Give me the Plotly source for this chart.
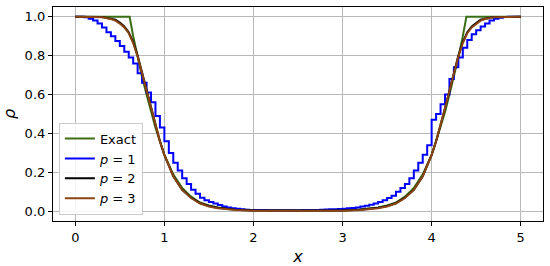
import numpy as np
import plotly.graph_objects as go

# exact solution (symmetric about x = 2.5)
x_exact = [0.0, 0.61, 0.65, 0.7, 0.75, 0.8, 0.85, 0.9, 0.95, 1.0, 1.05, 1.1, 1.2, 1.3, 1.4,
           1.5, 1.6, 1.8, 2.0, 2.5, 3.0, 3.2, 3.4, 3.5, 3.6, 3.7, 3.8, 3.9, 3.95, 4.0, 4.05,
           4.1, 4.15, 4.2, 4.25, 4.3, 4.35, 4.39, 5.0]
rho_exact = [1.0, 1.0, 0.9, 0.79, 0.69, 0.6, 0.51, 0.43, 0.36, 0.29, 0.24, 0.19, 0.12, 0.075, 0.045,
             0.03, 0.02, 0.01, 0.005, 0.003, 0.005, 0.01, 0.02, 0.03, 0.045, 0.075, 0.12, 0.19, 0.24,
             0.29, 0.36, 0.43, 0.51, 0.6, 0.69, 0.79, 0.9, 1.0, 1.0]

# p = 1 (piecewise constant, cells of 0.05)
x_p1 = np.round(np.arange(0, 5.001, 0.05), 2)
rho_p1 = [1.0, 1.0, 1.0, 0.997, 0.99, 0.98, 0.965, 0.945, 0.92, 0.9,
          0.875, 0.85, 0.82, 0.79, 0.76, 0.71, 0.66, 0.61, 0.56, 0.49,
          0.43, 0.36, 0.3, 0.25, 0.21, 0.17, 0.14, 0.11, 0.09, 0.07,
          0.057, 0.048, 0.04, 0.032, 0.025, 0.02, 0.016, 0.013, 0.01, 0.008,
          0.007, 0.006, 0.006, 0.006, 0.005, 0.005, 0.005, 0.005, 0.005, 0.005,
          0.005, 0.005, 0.006, 0.006, 0.007, 0.007, 0.008, 0.009, 0.01, 0.011,
          0.012, 0.013, 0.015, 0.017, 0.02, 0.024, 0.028, 0.033, 0.04, 0.048,
          0.057, 0.068, 0.08, 0.1, 0.12, 0.14, 0.17, 0.21, 0.25, 0.29,
          0.34, 0.47, 0.5, 0.55, 0.6, 0.68, 0.74, 0.79, 0.84, 0.88,
          0.91, 0.93, 0.95, 0.965, 0.98, 0.99, 0.995, 0.998, 1.0, 1.0, 1.0]

# p = 2 and p = 3
x_hi = [0.0, 0.3, 0.4, 0.45, 0.5, 0.55, 0.6, 0.65, 0.7, 0.75, 0.8, 0.85, 0.9, 0.95, 1.0, 1.1,
        1.2, 1.3, 1.4, 1.5, 1.6, 1.8, 2.0, 2.5, 3.0, 3.2, 3.4, 3.5, 3.6, 3.7, 3.8, 3.9, 4.0,
        4.05, 4.1, 4.15, 4.2, 4.25, 4.3, 4.35, 4.4, 4.45, 4.5, 4.55, 4.6, 4.7, 5.0]
rho_p2 = [1.0, 0.998, 0.99, 0.985, 0.97, 0.95, 0.92, 0.87, 0.8, 0.71, 0.62, 0.53, 0.44, 0.36, 0.29,
          0.18, 0.11, 0.07, 0.042, 0.027, 0.018, 0.008, 0.004, 0.003, 0.004, 0.008, 0.018, 0.027,
          0.042, 0.07, 0.11, 0.18, 0.29, 0.36, 0.44, 0.53, 0.62, 0.71, 0.8, 0.87, 0.92, 0.95,
          0.97, 0.985, 0.99, 0.998, 1.0]
rho_p3 = [1.0, 0.997, 0.988, 0.98, 0.965, 0.945, 0.915, 0.865, 0.795, 0.71, 0.62, 0.53, 0.44, 0.36,
          0.29, 0.18, 0.11, 0.068, 0.04, 0.025, 0.016, 0.007, 0.003, 0.002, 0.003, 0.007, 0.016,
          0.025, 0.04, 0.068, 0.11, 0.18, 0.29, 0.36, 0.44, 0.53, 0.62, 0.71, 0.795, 0.865, 0.915,
          0.945, 0.965, 0.98, 0.988, 0.997, 1.0]

fig = go.Figure()
fig.add_trace(go.Scatter(x=x_exact, y=rho_exact, mode="lines", name="Exact",
                         line=dict(color="#3a6e14", width=2)))
fig.add_trace(go.Scatter(x=x_p1, y=rho_p1, mode="lines", name="<i>p</i> = 1",
                         line=dict(color="#0000ff", width=2, shape="vh")))
fig.add_trace(go.Scatter(x=x_hi, y=rho_p2, mode="lines", name="<i>p</i> = 2",
                         line=dict(color="black", width=2)))
fig.add_trace(go.Scatter(x=x_hi, y=rho_p3, mode="lines", name="<i>p</i> = 3",
                         line=dict(color="#8b4513", width=2)))

axis_style = dict(showline=True, linecolor="black", linewidth=1.2, mirror=True,
                  ticks="outside", ticklen=4, tickcolor="black", automargin=False,
                  showgrid=True, gridcolor="#b8b8b8", gridwidth=1, zeroline=False,
                  tickfont=dict(size=13, color="black"))

fig.update_layout(
    width=550, height=266,
    margin=dict(l=53, r=7, t=7, b=45),
    plot_bgcolor="white", paper_bgcolor="white",
    font=dict(family="DejaVu Sans", size=13, color="black"),
    xaxis=dict(range=[-0.25, 5.25], tickvals=[0, 1, 2, 3, 4, 5],
               title=dict(text="<i>x</i>"), **axis_style),
    yaxis=dict(range=[-0.05, 1.05], tickvals=[0, 0.2, 0.4, 0.6, 0.8, 1.0],
               tickformat=".1f", title=dict(text="<i>ρ</i>"), **axis_style),
    legend=dict(x=0.012, y=0.03, xanchor="left", yanchor="bottom",
                bgcolor="rgba(255,255,255,0.85)", bordercolor="#cccccc", borderwidth=1,
                font=dict(size=13), itemwidth=30, tracegroupgap=0),
    showlegend=True,
)

# drop the page's default body margin so the figure sits at the window corner
fig.write_html("out.html", config={"displayModeBar": False},
               post_script="document.body.style.margin='0px';")
